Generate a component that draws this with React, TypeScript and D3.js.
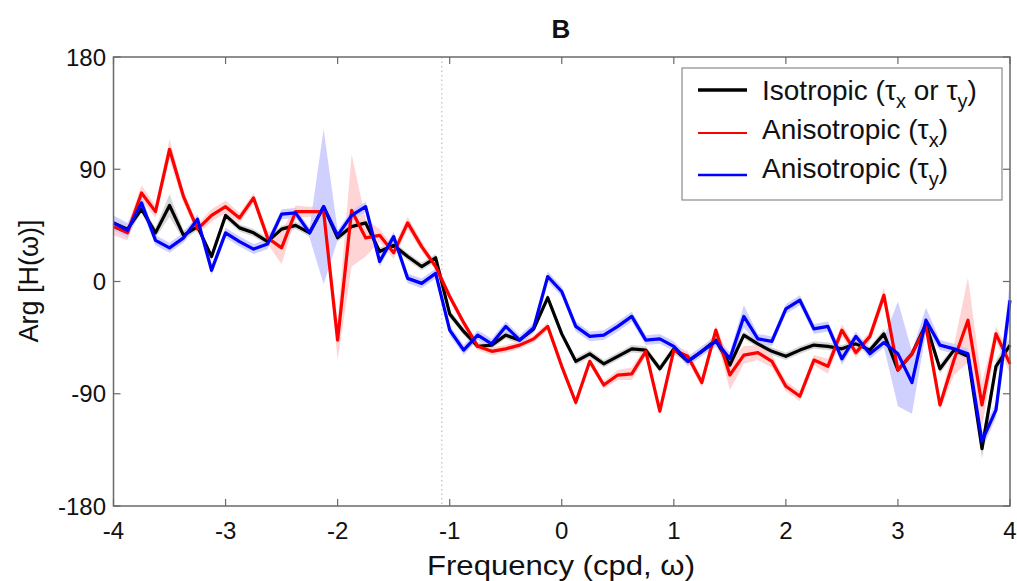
import React from 'react';
import * as d3 from 'd3';

const freq = [-4, -3.875, -3.75, -3.625, -3.5, -3.375, -3.25, -3.125, -3, -2.875, -2.75, -2.625, -2.5, -2.375, -2.25, -2.125, -2, -1.875, -1.75, -1.625, -1.5, -1.375, -1.25, -1.125, -1, -0.875, -0.75, -0.625, -0.5, -0.375, -0.25, -0.125, 0, 0.125, 0.25, 0.375, 0.5, 0.625, 0.75, 0.875, 1, 1.125, 1.25, 1.375, 1.5, 1.625, 1.75, 1.875, 2, 2.125, 2.25, 2.375, 2.5, 2.625, 2.75, 2.875, 3, 3.125, 3.25, 3.375, 3.5, 3.625, 3.75, 3.875, 4];

const isoMean = [47, 42, 58, 39, 61, 37, 44, 20, 53, 43, 39, 32, 42, 45, 39, 60, 35, 44, 47, 24, 29, 20, 12, 19, -26, -40, -52, -51, -43, -47, -38, -13, -42, -64, -58, -66, -60, -54, -55, -70, -54, -64, -56, -47, -67, -43, -50, -56, -60, -55, -51, -52, -54, -50, -55, -42, -71, -58, -34, -70, -55, -60, -134, -68, -51];
const isoErr = [3, 3, 3, 4, 9, 4, 3, 3, 3, 3, 3, 3, 3, 3, 3, 3, 3, 3, 3, 3, 3, 3, 3, 3, 3, 3, 3, 3, 3, 3, 3, 3, 3, 3, 3, 3, 3, 3, 3, 3, 3, 3, 3, 5, 5, 3, 3, 3, 3, 3, 3, 3, 3, 3, 3, 4, 5, 3, 4, 4, 3, 3, 8, 5, 6];

const anisoXMean = [44, 39, 71, 56, 106, 68, 42, 53, 60, 51, 67, 35, 27, 56, 56, 56, -47, 57, 35, 37, 23, 47, 28, 12, -12, -33, -52, -56, -54, -51, -46, -36, -68, -97, -64, -83, -75, -74, -56, -104, -55, -60, -81, -39, -75, -59, -57, -64, -84, -92, -63, -68, -39, -57, -44, -11, -71, -58, -36, -99, -63, -31, -99, -42, -66];
const anisoXErr = [7, 6, 6, 5, 8, 5, 4, 5, 5, 4, 4, 5, 13, 5, 4, 4, 16, 45, 15, 5, 5, 5, 4, 3, 3, 3, 3, 3, 3, 3, 3, 3, 3, 3, 3, 3, 4, 5, 4, 3, 4, 4, 4, 4, 12, 7, 6, 5, 4, 4, 4, 6, 5, 4, 4, 6, 4, 4, 4, 4, 12, 34, 18, 6, 8];

const anisoYMean = [47, 41, 63, 33, 27, 35, 50, 9, 39, 32, 26, 30, 54, 55, 39, 60, 37, 53, 60, 16, 36, 2.5, -1.5, 6.5, -39, -55, -43, -50, -36, -47, -37, 4, -8, -36, -44, -43, -36, -28, -47, -46, -52, -64, -56, -48, -62, -28, -46, -48, -22, -15, -38, -36, -62, -44, -58, -49, -58, -81, -31, -51, -54, -58, -128, -103, -15];
const anisoYErr = [6, 6, 6, 4, 4, 4, 4, 4, 4, 4, 4, 4, 4, 4, 4, 62, 4, 4, 4, 4, 4, 4, 4, 4, 4, 4, 4, 4, 4, 4, 4, 4, 4, 4, 4, 4, 4, 4, 4, 4, 4, 4, 4, 4, 5, 9, 4, 4, 4, 4, 4, 4, 5, 4, 4, 4, 42, 25, 10, 4, 4, 4, 7, 6, 16];

const xTicks = [-4, -3, -2, -1, 0, 1, 2, 3, 4];
const yTicks = [-180, -90, 0, 90, 180];
const markerFreq = -1.07;

const W = 1017;
const H = 581;
const font = "'Liberation Sans', Arial, Helvetica, sans-serif";

export default function App() {
  const x = d3.scaleLinear().domain([-4, 4]).range([113.5, 1010]);
  const y = d3.scaleLinear().domain([-180, 180]).range([506, 57]);

  const series = [
    { mean: isoMean, err: isoErr, color: '#000000', band: '#cfcfcf' },
    { mean: anisoXMean, err: anisoXErr, color: '#ff0000', band: '#ffcccc' },
    { mean: anisoYMean, err: anisoYErr, color: '#0000ff', band: '#c8c8ff' },
  ];

  const line = (m: number[]) =>
    d3.line<number>().x((_, i) => x(freq[i])).y((d) => y(d))(m) || '';
  const area = (m: number[], e: number[]) =>
    d3
      .area<number>()
      .x((_, i) => x(freq[i]))
      .y0((d, i) => y(d - e[i]))
      .y1((d, i) => y(d + e[i]))(m) || '';

  const [x0, x1] = x.range();
  const [yb, yt] = y.range();
  const axisColor = '#6a6a6a';

  return (
    <svg width={W} height={H} style={{ position: 'absolute', left: 0, top: 0, background: '#fff' }} fontFamily={font}>
      <rect x={0} y={0} width={W} height={H} fill="#fff" />
      {series.map((s, k) => (
        <path key={'b' + k} d={area(s.mean, s.err)} fill={s.band} fillOpacity={0.85} stroke="none" />
      ))}
      <line x1={x(markerFreq)} x2={x(markerFreq)} y1={yt} y2={yb} stroke="#b0b0b0" strokeWidth={1} strokeDasharray="1.5,3" />
      {series.map((s, k) => (
        <path key={'l' + k} d={line(s.mean)} fill="none" stroke={s.color} strokeWidth={3.2} strokeLinejoin="round" />
      ))}
      <rect x={x0} y={yt} width={x1 - x0} height={yb - yt} fill="none" stroke={axisColor} strokeWidth={1.5} />
      {xTicks.map((t) => (
        <g key={'xt' + t}>
          <line x1={x(t)} x2={x(t)} y1={yb} y2={yb - 7} stroke={axisColor} strokeWidth={1.2} />
          <line x1={x(t)} x2={x(t)} y1={yt} y2={yt + 7} stroke={axisColor} strokeWidth={1.2} />
          <text x={x(t)} y={539} fontSize={24} textAnchor="middle" fill="#111">{t}</text>
        </g>
      ))}
      {yTicks.map((t) => (
        <g key={'yt' + t}>
          <line x1={x0} x2={x0 + 7} y1={y(t)} y2={y(t)} stroke={axisColor} strokeWidth={1.2} />
          <line x1={x1} x2={x1 - 7} y1={y(t)} y2={y(t)} stroke={axisColor} strokeWidth={1.2} />
          <text x={106} y={y(t) + 8.5} fontSize={24} textAnchor="end" fill="#111">{t}</text>
        </g>
      ))}
      <text x={561} y={38} fontSize={26} fontWeight="bold" textAnchor="middle" fill="#111">B</text>
      <text x={427} y={575} fontSize={27} textLength={268} lengthAdjust="spacingAndGlyphs" fill="#111">Frequency (cpd, ω)</text>
      <text transform={`translate(38,281) rotate(-90)`} fontSize={27} textAnchor="middle" fill="#111">Arg [H(ω)]</text>
      <rect x={682} y={68} width={320} height={132} fill="#fff" stroke="#8a8a8a" strokeWidth={1.2} />
      <line x1={698} x2={747} y1={90} y2={90} stroke="#000" strokeWidth={3.5} />
      <line x1={698} x2={747} y1={133} y2={133} stroke="#ff0000" strokeWidth={2.2} />
      <line x1={698} x2={747} y1={175} y2={175} stroke="#0000ff" strokeWidth={2.6} />
      <text x={762} y={100} fontSize={28} fill="#111">
        Isotropic (τ<tspan fontSize={20} dy={8}>x</tspan><tspan dy={-8}> or τ</tspan><tspan fontSize={20} dy={8}>y</tspan><tspan dy={-8}>)</tspan>
      </text>
      <text x={762} y={139} fontSize={28} fill="#111">
        Anisotropic (τ<tspan fontSize={20} dy={8}>x</tspan><tspan dy={-8}>)</tspan>
      </text>
      <text x={762} y={178} fontSize={28} fill="#111">
        Anisotropic (τ<tspan fontSize={20} dy={8}>y</tspan><tspan dy={-8}>)</tspan>
      </text>
    </svg>
  );
}
